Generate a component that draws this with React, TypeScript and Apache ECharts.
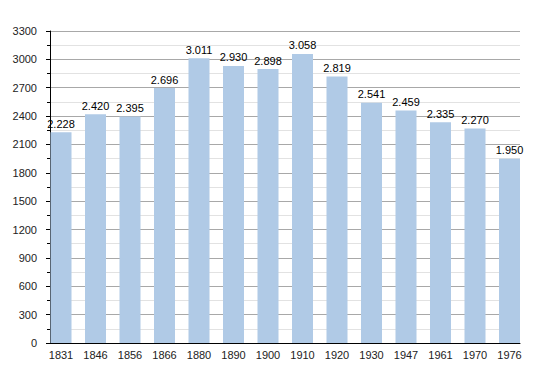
import React, { useEffect, useRef } from "react";
import * as echarts from "echarts";

const years = ["1831", "1846", "1856", "1866", "1880", "1890", "1900", "1910", "1920", "1930", "1947", "1961", "1970", "1976"];
const population = [2228, 2420, 2395, 2696, 3011, 2930, 2898, 3058, 2819, 2541, 2459, 2335, 2270, 1950];
const yMax = 3300;
const yStep = 300;

const fmt = (v: number) => {
  const s = String(Math.round(v));
  return s.replace(/\B(?=(\d{3})+(?!\d))/g, ".");
};

export default function App() {
  const ref = useRef<HTMLDivElement>(null);
  useEffect(() => {
    if (!ref.current) return;
    const chart = echarts.init(ref.current, undefined, { renderer: "svg" });
    const font = "'Liberation Sans', Arial, sans-serif";
    chart.setOption({
      animation: false,
      backgroundColor: "#fff",
      grid: [
        { left: 50, right: 30, top: 31, bottom: 30 },
        { left: 61, right: 40.5, top: 31, bottom: 30 },
      ],
      xAxis: [
        {
          gridIndex: 0,
          type: "value",
          min: 0,
          max: 1,
          axisLine: { show: true, onZero: false, lineStyle: { color: "#000", width: 1 } },
          axisTick: { show: false },
          axisLabel: { show: false },
          splitLine: { show: false },
        },
        {
          gridIndex: 1,
          type: "category",
          data: years,
          boundaryGap: false,
          axisLine: { show: false },
          axisTick: { show: false },
          axisLabel: { color: "#222", fontSize: 11, fontFamily: font, margin: 6, interval: 0 },
        },
      ],
      yAxis: [
        {
          gridIndex: 0,
          type: "value",
          min: 0,
          max: yMax,
          interval: yStep,
          axisLine: { show: true, lineStyle: { color: "#000", width: 1 } },
          axisTick: { show: true, length: 4, lineStyle: { color: "#000" } },
          minorTick: { show: true, splitNumber: 2, length: 3, lineStyle: { color: "#000" } },
          axisLabel: {
            color: "#222",
            fontSize: 11,
            fontFamily: font,
            margin: 13,
            formatter: (v: number) => String(v),
          },
          splitLine: { show: true, lineStyle: { color: "#a8a8a8", width: 1 } },
          minorSplitLine: { show: true, lineStyle: { color: "#e2e2e2", width: 1 } },
        },
        {
          gridIndex: 1,
          type: "value",
          min: 0,
          max: yMax,
          interval: yStep,
          show: false,
          splitLine: { show: false },
        },
      ],
      series: [
        {
          type: "bar",
          xAxisIndex: 1,
          yAxisIndex: 1,
          data: population,
          barWidth: 21,
          itemStyle: { color: "#b0cae6" },
          label: {
            show: true,
            position: "top",
            distance: 3,
            color: "#000",
            fontSize: 11,
            fontFamily: font,
            formatter: (p: any) => fmt(p.value),
          },
        },
      ],
    });
    return () => chart.dispose();
  }, []);
  return <div ref={ref} style={{ width: 550, height: 373, margin: -8 }} />;
}
